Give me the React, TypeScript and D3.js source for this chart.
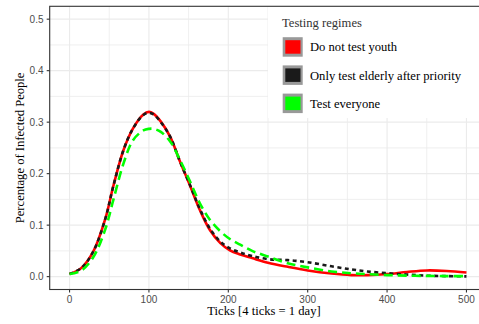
import React from "react";
import * as d3 from "d3";

const ticksT = [0, 15, 30, 45, 55, 68, 80, 93, 100, 106, 115, 127, 139, 152, 164, 177, 190, 202, 215, 230, 250, 275, 300, 330, 355, 375, 400, 425, 450, 475, 500];
const noYouth = [0.005, 0.017, 0.049, 0.112, 0.175, 0.246, 0.288, 0.315, 0.320, 0.316, 0.301, 0.271, 0.224, 0.176, 0.130, 0.090, 0.065, 0.051, 0.043, 0.036, 0.027, 0.019, 0.012, 0.006, 0.003, 0.003, 0.005, 0.009, 0.012, 0.011, 0.008];
const elderlyAfter = [0.005, 0.017, 0.049, 0.112, 0.175, 0.246, 0.288, 0.314, 0.318, 0.315, 0.300, 0.271, 0.224, 0.177, 0.132, 0.093, 0.068, 0.055, 0.047, 0.040, 0.034, 0.032, 0.028, 0.020, 0.014, 0.010, 0.0066, 0.004, 0.002, 0.001, 0.0005];
const everyone = [0.005, 0.012, 0.038, 0.092, 0.148, 0.220, 0.265, 0.284, 0.287, 0.287, 0.281, 0.262, 0.227, 0.184, 0.143, 0.110, 0.088, 0.073, 0.062, 0.050, 0.039, 0.026, 0.018, 0.010, 0.0066, 0.005, 0.003, 0.002, 0.0014, 0.001, 0.001];

const xTicks = [0, 100, 200, 300, 400, 500];
const xMinor = [50, 150, 250, 350, 450];
const yTicks = [0, 0.1, 0.2, 0.3, 0.4, 0.5];
const yMinor = [0.05, 0.15, 0.25, 0.35, 0.45];

const seriesNames = ["Do not test youth", "Only test elderly after priority", "Test everyone"];
const seriesColors = ["#ff0000", "#1a1a1a", "#00ff00"];
const seriesDash = [null, "4,3.5", "9,5"];
const seriesValues = [noYouth, elderlyAfter, everyone];

const W = 479;
const H = 324;
const panel = { left: 49.7, right: 486.3, top: 6.3, bottom: 289.5 };

export default function App() {
  const x = d3.scaleLinear().domain([-25, 525]).range([panel.left, panel.right]);
  const y = d3.scaleLinear().domain([-0.025, 0.525]).range([panel.bottom, panel.top]);
  const serif = "'Liberation Serif', 'Times New Roman', serif";
  const sans = "'Liberation Sans', Arial, sans-serif";

  const line = d3
    .line<[number, number]>()
    .x((d) => x(d[0]))
    .y((d) => y(d[1]))
    .curve(d3.curveCatmullRom.alpha(0.5));

  return (
    <svg width={W} height={H} style={{ position: "absolute", left: 0, top: 0, background: "#fff" }}>
      <defs>
        <clipPath id="pclip">
          <rect x={panel.left} y={panel.top} width={panel.right - panel.left} height={panel.bottom - panel.top} />
        </clipPath>
      </defs>
      <rect x={0} y={0} width={W} height={H} fill="#fff" />
      <g>
        {xMinor.map((t) => (
          <line key={"xm" + t} x1={x(t)} x2={x(t)} y1={panel.top} y2={panel.bottom} stroke="#ebebeb" strokeWidth={0.8} />
        ))}
        {yMinor.map((t) => (
          <line key={"ym" + t} x1={panel.left} x2={panel.right} y1={y(t)} y2={y(t)} stroke="#ebebeb" strokeWidth={0.8} />
        ))}
        {xTicks.map((t) => (
          <line key={"xg" + t} x1={x(t)} x2={x(t)} y1={panel.top} y2={panel.bottom} stroke="#ebebeb" strokeWidth={1.1} />
        ))}
        {yTicks.map((t) => (
          <line key={"yg" + t} x1={panel.left} x2={panel.right} y1={y(t)} y2={y(t)} stroke="#ebebeb" strokeWidth={1.1} />
        ))}
      </g>
      <g clipPath="url(#pclip)">
        {seriesValues.map((vals, i) => (
          <path
            key={seriesNames[i]}
            d={line(ticksT.map((t, j) => [t, vals[j]] as [number, number])) || ""}
            fill="none"
            stroke={seriesColors[i]}
            strokeWidth={2.6}
            strokeDasharray={seriesDash[i] || undefined}
          />
        ))}
      </g>
      {/* panel border */}
      <rect
        x={panel.left}
        y={panel.top}
        width={panel.right - panel.left}
        height={panel.bottom - panel.top}
        fill="none"
        stroke="#333333"
        strokeWidth={1.1}
      />
      {/* legend */}
      <rect x={268} y={7} width={220} height={111} fill="#fff" />
      <text x={282} y={27} fontFamily={serif} fontSize={12.6} fill="#333">
        Testing regimes
      </text>
      {seriesNames.map((name, i) => {
        const cy = 47 + i * 28.2;
        return (
          <g key={"lg" + name}>
            <rect x={282.7} y={cy - 9.8} width={20} height={19.5} fill="#999999" />
            <rect x={285.3} y={cy - 6.8} width={15.2} height={13.5} fill={seriesColors[i]} />
            <text x={310} y={cy + 4.4} fontFamily={serif} fontSize={12.6} fill="#000">
              {name}
            </text>
          </g>
        );
      })}
      {/* axes ticks */}
      {xTicks.map((t) => (
        <g key={"xt" + t}>
          <line x1={x(t)} x2={x(t)} y1={panel.bottom} y2={panel.bottom + 3} stroke="#333" strokeWidth={1.1} />
          <text x={x(t)} y={302.5} textAnchor="middle" fontFamily={sans} fontSize={10} fill="#4d4d4d">
            {t}
          </text>
        </g>
      ))}
      {yTicks.map((t) => (
        <g key={"yt" + t}>
          <line x1={panel.left - 3} x2={panel.left} y1={y(t)} y2={y(t)} stroke="#333" strokeWidth={1.1} />
          <text x={43.5} y={y(t) + 3.6} textAnchor="end" fontFamily={sans} fontSize={10} fill="#4d4d4d">
            {t.toFixed(1)}
          </text>
        </g>
      ))}
      <text x={(panel.left + panel.right) / 2 - 4} y={315.3} textAnchor="middle" fontFamily={serif} fontSize={12.6} fill="#000">
        Ticks [4 ticks = 1 day]
      </text>
      <text
        transform={`translate(24.3, ${(panel.top + panel.bottom) / 2}) rotate(-90)`}
        textAnchor="middle"
        fontFamily={serif}
        fontSize={12.6}
        fill="#000"
      >
        Percentage of Infected People
      </text>
    </svg>
  );
}
